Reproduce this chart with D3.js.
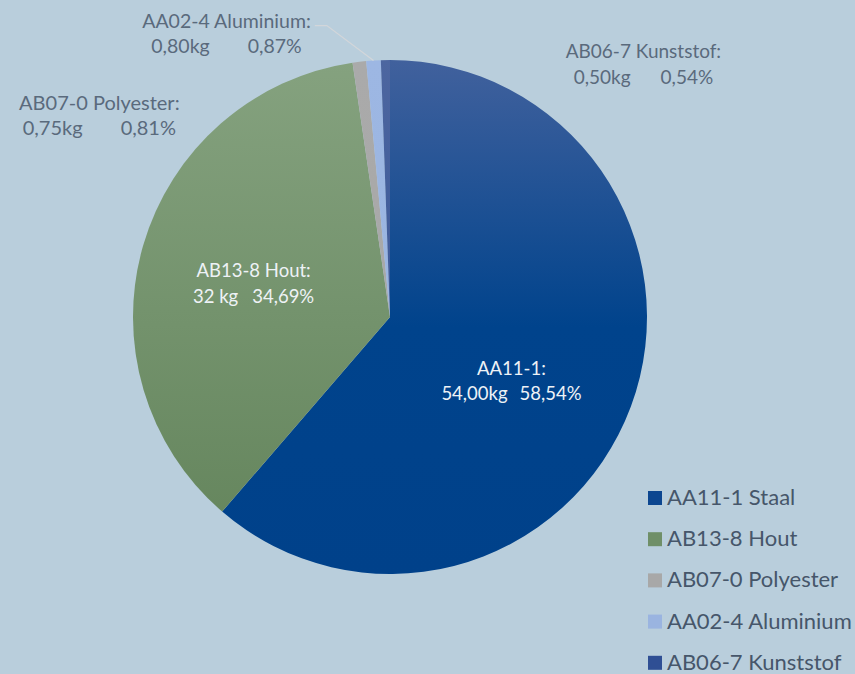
<!DOCTYPE html>
<html>
<head>
<meta charset="utf-8">
<script src="https://cdn.jsdelivr.net/npm/d3@7"></script>
<style>
  html, body { margin: 0; padding: 0; background: #b9cedc; }
  svg { display: block; font-family: Lato, "Open Sans", sans-serif; }
</style>
</head>
<body>
<svg id="chart"></svg>
<script>
const width = 855;
const height = 674;

// data
const categories = ["AA11-1 Staal", "AB13-8 Hout", "AB07-0 Polyester", "AA02-4 Aluminium", "AB06-7 Kunststof"];
const labelNames = ["AA11-1:", "AB13-8 Hout:", "AB07-0 Polyester:", "AA02-4 Aluminium:", "AB06-7 Kunststof:"];
const weights = [54, 32, 0.75, 0.8, 0.5];
const weightLabels = ["54,00kg", "32 kg", "0,75kg", "0,80kg", "0,50kg"];
const percentLabels = ["58,54%", "34,69%", "0,81%", "0,87%", "0,54%"];

// styles
const gradStops = [
  [["0%", "#41619d"], ["52%", "#00438c"], ["100%", "#00418a"]],
  [["0%", "#85a27f"], ["100%", "#62835a"]],
  [["0%", "#aaaaaa"], ["100%", "#a6a6a6"]],
  [["0%", "#9db7e3"], ["100%", "#98b2de"]],
  [["0%", "#4d66a0"], ["100%", "#2c4b90"]]
];
const legendColors = ["#0c4690", "#6f8f68", "#a8a8a8", "#9ab4e0", "#2f4f94"];

const cx = 390, cy = 317, radius = 257;

const svg = d3.select("#chart")
  .attr("width", width)
  .attr("height", height);

// gradients live in the pie group's coordinates (centre at 0,0)
const defs = svg.append("defs");
gradStops.forEach((stops, i) => {
  const g = defs.append("linearGradient")
    .attr("id", "grad" + i)
    .attr("gradientUnits", "userSpaceOnUse")
    .attr("x1", 0).attr("x2", 0)
    .attr("y1", -radius).attr("y2", radius);
  stops.forEach(s => g.append("stop").attr("offset", s[0]).attr("stop-color", s[1]));
});

const pie = d3.pie().sort(null).value(d => d);
const arcs = pie(weights);
const arc = d3.arc().innerRadius(0).outerRadius(radius);

const pieG = svg.append("g").attr("transform", `translate(${cx},${cy})`);

pieG.selectAll("path.slice")
  .data(arcs)
  .enter()
  .append("path")
  .classed("slice", true)
  .attr("d", arc)
  .attr("fill", (d, i) => `url(#grad${i})`);

// label placement: inside labels near the centroid, outside labels pushed off the rim
const labelLayout = [
  { inside: true, dx: 1, dy: 13, gap: 12, size: 18.5 },
  { inside: true, dx: -13, dy: -4, gap: 14, size: 18.5 },
  { inside: false, dx: -260, dy: 48, gap: 38, size: 20 },
  { inside: false, dx: -147, dy: -33, gap: 38, size: 19.5 },
  { inside: false, dx: 258, dy: -2, gap: 30, size: 19 }
];
const lineGap = 25.5;

function rimPoint(d) {
  const a = (d.startAngle + d.endAngle) / 2;
  return [Math.sin(a) * radius, -Math.cos(a) * radius];
}

const labelG = pieG.append("g").classed("labels", true);

arcs.forEach((d, i) => {
  const lay = labelLayout[i];
  const base = lay.inside ? arc.centroid(d) : rimPoint(d);
  const x = base[0] + lay.dx;
  const y = base[1] + lay.dy;
  const color = lay.inside ? "#eef2f6" : "#5a6a7c";

  const t1 = labelG.append("text")
    .attr("x", x).attr("y", y)
    .attr("text-anchor", "middle")
    .attr("font-size", lay.size)
    .attr("fill", color)
    .text(labelNames[i]);

  const t2 = labelG.append("text")
    .attr("x", x).attr("y", y + lineGap)
    .attr("text-anchor", "middle")
    .attr("font-size", lay.size)
    .attr("fill", color);
  t2.append("tspan").text(weightLabels[i]);
  t2.append("tspan").attr("dx", lay.gap).text(percentLabels[i]);

  // leader line for the aluminium label
  if (i === 3) {
    const bb = t1.node().getBBox();
    const p = rimPoint(d);
    const lx = bb.x + bb.width + 4;
    const ly = y - 2;
    labelG.insert("polyline", "text")
      .attr("points", [[p[0], p[1]], [lx + 12, ly], [lx, ly]].map(q => q.join(",")).join(" "))
      .attr("fill", "none")
      .attr("stroke", "#d2d6da")
      .attr("stroke-width", 1.3);
  }
});

// legend
const legendX = 648, legendY = 491, legendStep = 41.2, box = 14;
const legend = svg.append("g").classed("legend", true);
const items = legend.selectAll("g.item")
  .data(categories)
  .enter()
  .append("g")
  .classed("item", true)
  .attr("transform", (d, i) => `translate(${legendX},${legendY + i * legendStep})`);

items.append("rect")
  .attr("width", box)
  .attr("height", box)
  .attr("fill", (d, i) => legendColors[i]);

items.append("text")
  .attr("x", box + 5)
  .attr("y", box)
  .attr("font-size", 22)
  .attr("fill", "#46566a")
  .text(d => d);
</script>
</body>
</html>
